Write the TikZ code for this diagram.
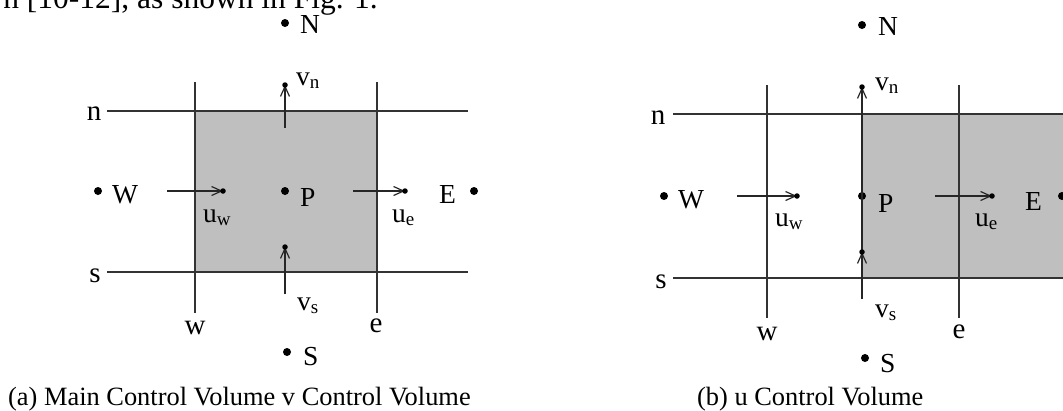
\documentclass[tikz,border=0pt]{standalone}
\usepackage{fontspec}
\setmainfont{Liberation Serif}
\usetikzlibrary{arrows.meta}
\newcommand\mysub[1]{\raisebox{-3pt}{\fontsize{19}{19}\selectfont #1}}
\begin{document}
\begin{tikzpicture}[x=1pt,y=-1pt,
  grid/.style={line width=1.6pt, draw=black!80},
  cv/.style={fill=black!25},
  flow/.style={line width=1.3pt, draw=black!85, -{Straight Barb[length=10pt,width=9pt,line width=1.2pt]}},
  tipdot/.style={circle, fill=black, inner sep=0pt, minimum size=5.5pt},
  ptdot/.style={circle, fill=black, inner sep=0pt, minimum size=8pt},
  lab/.style={inner sep=0pt, anchor=base west, font=\fontsize{27.5}{28}\selectfont},
  clab/.style={inner sep=0pt, anchor=base, font=\fontsize{29}{29}\selectfont},
  captext/.style={inner sep=0pt, anchor=base west, font=\fontsize{26.4}{27}\selectfont}
]
\useasboundingbox (0,0) rectangle (1063,410);
\fill[white] (0,0) rectangle (1063,410);
\clip (0,0) rectangle (1063,410);

% cut-off line of text above the figure
\node[inner sep=0pt, anchor=base east, font=\fontsize{31.5}{32}\selectfont] (toptext) at (378,8.5) {n [10-12], as shown in Fig. 1.};

% ================= panel (a) =================
\fill[cv] (195,111) rectangle (377,272);
\coordinate (anL) at (107,111); \coordinate (anR) at (468,111);
\coordinate (asL) at (107,272); \coordinate (asR) at (468,272);
\coordinate (awT) at (195,82);  \coordinate (awB) at (195,313);
\coordinate (aeT) at (377,82);  \coordinate (aeB) at (377,313);
\draw[grid] (anL) -- (anR);
\draw[grid] (asL) -- (asR);
\draw[grid] (awT) -- (awB);
\draw[grid] (aeT) -- (aeB);

\node[clab] (anlab) at (94,120) {n};
\node[clab] (aslab) at (95,282) {s};
\node[clab] (awlab) at (195,334) {w};
\node[clab] (aelab) at (376,332) {e};

\node[ptdot] (aN) at (285,23) {};  \node[lab] (aNt) at (300,33) {N};
\node[ptdot] (aW) at (98,191) {};  \node[lab] (aWt) at (112,203) {W};
\node[ptdot] (aP) at (285,191) {}; \node[lab] (aPt) at (300,206) {P};
\node[ptdot] (aE) at (474,191) {}; \node[lab] (aEt) at (439,203) {E};
\node[ptdot] (aS) at (287,352) {}; \node[lab] (aSt) at (303,365) {S};

\coordinate (auwA) at (167,191); \coordinate (auwB) at (223,191);
\coordinate (aueA) at (353,191); \coordinate (aueB) at (405,191);
\coordinate (avnA) at (285,128); \coordinate (avnB) at (285,85);
\coordinate (avsA) at (285,294); \coordinate (avsB) at (285,247);
\draw[flow] (auwA) -- (auwB); \node[tipdot] (auwD) at (auwB) {};
\draw[flow] (aueA) -- (aueB); \node[tipdot] (aueD) at (aueB) {};
\draw[flow] (avnA) -- (avnB); \node[tipdot] (avnD) at (avnB) {};
\draw[flow] (avsA) -- (avsB); \node[tipdot] (avsD) at (avsB) {};

\node[lab] (auwl) at (203,222) {u\mysub{w}};
\node[lab] (auel) at (392,222) {u\mysub{e}};
\node[lab] (avnl) at (296,85) {v\mysub{n}};
\node[lab] (avsl) at (297,310) {v\mysub{s}};

\node[captext] (capa) at (8,405) {(a) Main Control Volume v Control Volume};

% ================= panel (b) =================
\fill[cv] (862,114) rectangle (1063,278);
\coordinate (bnL) at (673,114); \coordinate (bnR) at (1063,114);
\coordinate (bsL) at (673,278); \coordinate (bsR) at (1063,278);
\coordinate (bwT) at (767,85);  \coordinate (bwB) at (767,318);
\coordinate (beT) at (959,85);  \coordinate (beB) at (959,318);
\draw[grid] (bnL) -- (bnR);
\draw[grid] (bsL) -- (bsR);
\draw[grid] (bwT) -- (bwB);
\draw[grid] (beT) -- (beB);

\node[clab] (bnlab) at (658,124) {n};
\node[clab] (bslab) at (661,288) {s};
\node[clab] (bwlab) at (767,340) {w};
\node[clab] (belab) at (959,338) {e};

\node[ptdot] (bN) at (862,25) {};   \node[lab] (bNt) at (878,35) {N};
\node[ptdot] (bW) at (664,196) {};  \node[lab] (bWt) at (678,208) {W};
\node[ptdot] (bP) at (862,196) {};  \node[lab] (bPt) at (878,212) {P};
\node[ptdot] (bE) at (1062,196) {}; \node[lab] (bEt) at (1025,210) {E};
\node[ptdot] (bS) at (865,358) {};  \node[lab] (bSt) at (880,372) {S};

\coordinate (buwA) at (737,196); \coordinate (buwB) at (797,196);
\coordinate (bueA) at (935,196); \coordinate (bueB) at (992,196);
\coordinate (bvnA) at (862,252); \coordinate (bvnB) at (862,87);
\coordinate (bvsA) at (862,299); \coordinate (bvsB) at (862,252);
\draw[flow] (buwA) -- (buwB); \node[tipdot] (buwD) at (buwB) {};
\draw[flow] (bueA) -- (bueB); \node[tipdot] (bueD) at (bueB) {};
\draw[flow] (bvnA) -- (bvnB); \node[tipdot] (bvnD) at (bvnB) {};
\draw[flow] (bvsA) -- (bvsB); \node[tipdot] (bvsD) at (bvsB) {};

\node[lab] (buwl) at (775,226) {u\mysub{w}};
\node[lab] (buel) at (975,226) {u\mysub{e}};
\node[lab] (bvnl) at (875,90) {v\mysub{n}};
\node[lab] (bvsl) at (875,317) {v\mysub{s}};

\node[captext] (capb) at (697,405) {(b) u Control Volume};
\end{tikzpicture}
\end{document}
